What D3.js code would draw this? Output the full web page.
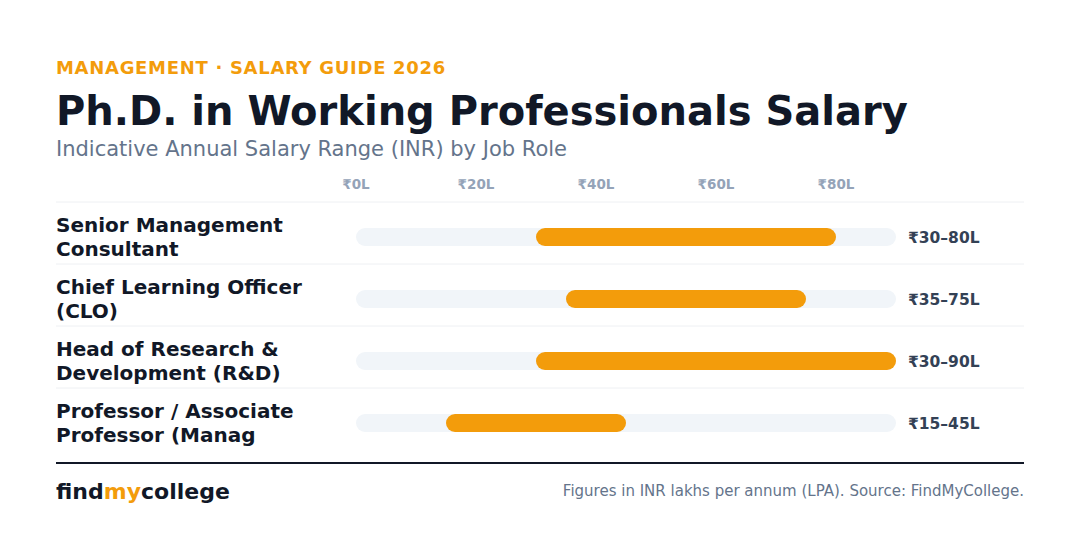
<!DOCTYPE html>
<html><head><meta charset="utf-8">
<script src="https://cdn.jsdelivr.net/npm/d3@7"></script>
<style>body{margin:0;background:#fff}svg{display:block;font-family:"DejaVu Sans",sans-serif}</style>
</head><body>
<script>
const roles = [["Senior Management", "Consultant"], ["Chief Learning Officer", "(CLO)"], ["Head of Research &", "Development (R&D)"], ["Professor / Associate", "Professor (Manag"]];
const lows = [30, 35, 30, 15];
const highs = [80, 75, 90, 45];
const ticks = [0, 20, 40, 60, 80];

const svg = d3.select("body").append("svg").attr("width", 1080).attr("height", 536);
const x = d3.scaleLinear().domain([0, 90]).range([356, 896]);
const y = d3.scaleBand().domain(d3.range(roles.length)).range([202, 450]);
const orange = "#f39c0b", dark = "#111827";

svg.append("text").attr("x", 56).attr("y", 74).attr("fill", orange).attr("font-size", 18).attr("font-weight", "bold").attr("letter-spacing", 0.7).text("MANAGEMENT · SALARY GUIDE 2026");
svg.append("text").attr("x", 56).attr("y", 125).attr("fill", dark).attr("font-size", 40).attr("font-weight", "bold").text("Ph.D. in Working Professionals Salary");
svg.append("text").attr("x", 56).attr("y", 156).attr("fill", "#64748b").attr("font-size", 21).text("Indicative Annual Salary Range (INR) by Job Role");

svg.selectAll(".tick").data(ticks).enter().append("text")
    .attr("x", d => x(d)).attr("y", 189).attr("text-anchor", "middle")
    .attr("fill", "#94a3b8").attr("font-size", 13.5).attr("font-weight", "bold")
    .text(d => "₹" + d + "L");

svg.selectAll(".sep").data(d3.range(roles.length)).enter().append("line")
    .attr("x1", 56).attr("x2", 1024).attr("y1", i => y(i)).attr("y2", i => y(i))
    .attr("stroke", "#eef0f3");

const row = svg.selectAll(".row").data(d3.range(roles.length)).enter().append("g")
    .attr("transform", i => `translate(0,${y(i) + y.bandwidth() / 2 + 4})`);

row.append("text").attr("x", 56).attr("y", -5).attr("fill", dark).attr("font-size", 20).attr("font-weight", "bold").text(i => roles[i][0]);
row.append("text").attr("x", 56).attr("y", 19).attr("fill", dark).attr("font-size", 20).attr("font-weight", "bold").text(i => roles[i][1]);
row.append("rect").attr("x", x(0)).attr("y", -9).attr("width", x(90) - x(0)).attr("height", 18).attr("rx", 9).attr("fill", "#f1f5f9");
row.append("rect").attr("x", i => x(lows[i])).attr("y", -9).attr("width", i => x(highs[i]) - x(lows[i])).attr("height", 18).attr("rx", 9).attr("fill", orange);
row.append("text").attr("x", 908).attr("y", 6).attr("fill", "#334155").attr("font-size", 15.5).attr("font-weight", "bold").text(i => `₹${lows[i]}–${highs[i]}L`);

svg.append("line").attr("x1", 56).attr("x2", 1024).attr("y1", 463).attr("y2", 463).attr("stroke", dark).attr("stroke-width", 2);
const logo = svg.append("text").attr("x", 56).attr("y", 499).attr("font-size", 22).attr("font-weight", "bold").attr("fill", dark);
logo.append("tspan").text("find");
logo.append("tspan").attr("fill", orange).text("my");
logo.append("tspan").text("college");
svg.append("text").attr("x", 1024).attr("y", 496).attr("text-anchor", "end").attr("fill", "#64748b").attr("font-size", 15).text("Figures in INR lakhs per annum (LPA). Source: FindMyCollege.");
</script>
</body></html>
